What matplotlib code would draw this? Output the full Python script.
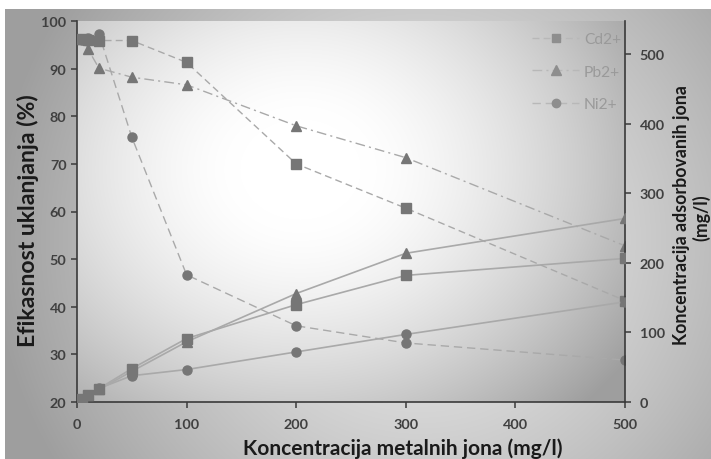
import numpy as np
import matplotlib
matplotlib.use("Agg")
import matplotlib.pyplot as plt
from matplotlib.lines import Line2D

plt.rcParams['font.family'] = ['Lato', 'DejaVu Sans']

# ---------------- data ----------------
conc = [5, 10, 20, 50, 100, 200, 300, 500]
series = ['Cd2+', 'Pb2+', 'Ni2+']
cd_eff = [96.2, 96.0, 95.9, 95.9, 91.3, 70.0, 60.7, 41.3]
pb_eff = [96.3, 94.1, 90.1, 88.2, 86.6, 78.0, 71.3, 52.8]
ni_eff = [96.0, 96.4, 97.3, 75.6, 46.7, 36.0, 32.4, 28.8]
cd_ads = [4.8, 9.6, 19.2, 48.0, 91.3, 140.0, 182.1, 206.5]
pb_ads = [4.8, 9.4, 18.0, 44.1, 86.6, 156.0, 213.9, 264.0]
ni_ads = [4.8, 9.6, 19.5, 37.8, 46.7, 72.0, 97.2, 144.0]
xticks = [0, 100, 200, 300, 400, 500]
yticks_left = [20, 30, 40, 50, 60, 70, 80, 90, 100]
yticks_right = [0, 100, 200, 300, 400, 500]

W, H = 711, 460
fig = plt.figure(figsize=(W / 100, H / 100), dpi=100)
renderer = fig.canvas.get_renderer()


def fit(txt, target_px, vertical=False):
    """scale a text's font size so its extent matches the target pixel span"""
    for _ in range(3):
        bb = txt.get_window_extent(renderer=renderer)
        cur = bb.height if vertical else bb.width
        txt.set_fontsize(txt.get_fontsize() * target_px / cur)


# ---------------- backgrounds ----------------
yy, xx = np.mgrid[0:H, 0:W].astype(float)
d = np.sqrt((xx - 420) ** 2 + (yy - 240) ** 2)
frame = 0.93 - 0.31 * np.clip(d / 430, 0, 1) ** 1.3
frame[(yy < 10) | (xx < 5)] = 1.0
bg = fig.add_axes([0, 0, 1, 1], zorder=-10)
bg.imshow(np.dstack([frame] * 3), extent=[0, W, H, 0], aspect='auto', interpolation='bilinear')
bg.set_xlim(0, W); bg.set_ylim(H, 0)
bg.axis('off')

L, R, T, B = 77, 625, 22, 403
ax = fig.add_axes([L / W, 1 - B / H, (R - L) / W, (B - T) / H])
ax.patch.set_alpha(0)
py, px = np.mgrid[T:B, L:R].astype(float)
dp = np.sqrt((px - 300) ** 2 + ((py - 170) * 1.2) ** 2)
plot_bg = 1 - 0.38 * np.clip((dp - 60) / 340, 0, 1) ** 1.5
ax.imshow(np.dstack([plot_bg] * 3), extent=[0, 500, 20, 100], aspect='auto',
          interpolation='bilinear', zorder=0)

ax2 = ax.twinx()
ax2.patch.set_alpha(0)

mcol = '#767676'
lcol = '#a9a9a9'
markers = ['s', '^', 'o']
msizes = [6.5, 7.5, 6.5]
dashes = [(0, (5, 3)), (0, (7, 3, 1.5, 3)), (0, (6, 3.5))]
effs = [cd_eff, pb_eff, ni_eff]
adss = [cd_ads, pb_ads, ni_ads]

handles = []
for name, eff, ads, mk, ms, ds in zip(series, effs, adss, markers, msizes, dashes):
    ax.plot(conc, eff, color=lcol, lw=1.0, linestyle=ds, zorder=3)
    ax.plot(conc, eff, linestyle='none', marker=mk, ms=ms, mfc=mcol, mec=mcol, zorder=4)
    ax2.plot(conc, ads, color=lcol, lw=1.2, zorder=3)
    ax2.plot(conc, ads, linestyle='none', marker=mk, ms=ms, mfc=mcol, mec=mcol, zorder=4)
    handles.append(Line2D([], [], color='#b8b8b8', lw=1.0, linestyle=ds, marker=mk, ms=ms - 0.5,
                          mfc='#8e8e8e', mec='#8e8e8e'))

ax.set_xlim(0, 500)
ax.set_ylim(20, 100)
ax2.set_ylim(0, 548)
ax.set_xticks(xticks)
ax.set_yticks(yticks_left)
ax2.set_yticks(yticks_right)

spc = '#3a3a3a'
for a in (ax, ax2):
    a.spines['top'].set_visible(False)
    for s in ['left', 'right', 'bottom']:
        a.spines[s].set_color(spc)
        a.spines[s].set_linewidth(1.2)
ax.spines['right'].set_visible(False)
ax2.spines['left'].set_visible(False)
ax2.spines['bottom'].set_visible(False)

ax.tick_params(axis='both', direction='out', length=4.5, width=1.1, color=spc, pad=3)
ax.tick_params(axis='x', pad=7)
ax2.tick_params(axis='y', direction='out', length=4.5, width=1.1, color=spc, pad=6)

# tick-label size: "100" is about 25 px wide in the reference
probe = fig.text(0, 0, '100', fontsize=10.5, fontweight='bold')
fit(probe, 25)
tick_fs = probe.get_fontsize()
probe.remove()
for lab in ax.get_xticklabels() + ax.get_yticklabels() + ax2.get_yticklabels():
    lab.set_fontsize(tick_fs)
    lab.set_fontweight('bold')
    lab.set_color('#404040')

xl = fig.text(403 / W, 1 - 449 / H, 'Koncentracija metalnih jona (mg/l)', ha='center', va='center',
              fontsize=13, fontweight='bold', color='#1a1a1a')
fit(xl, 320)
yl = fig.text(28 / W, 1 - 221 / H, 'Efikasnost uklanjanja (%)', ha='center', va='center', rotation=90,
              fontsize=13, fontweight='bold', color='#1a1a1a')
fit(yl, 252, vertical=True)
yr1 = fig.text(681 / W, 1 - 215 / H, 'Koncentracija adsorbovanih jona', ha='center', va='center',
               rotation=90, fontsize=12.5, fontweight='bold', color='#1a1a1a')
fit(yr1, 260, vertical=True)
yr2 = fig.text(701 / W, 1 - 218 / H, '(mg/l)', ha='center', va='center',
               rotation=90, fontsize=yr1.get_fontsize(), fontweight='bold', color='#1a1a1a')

probe = fig.text(0, 0, 'Cd2+', fontsize=11)
fit(probe, 37)
leg_fs = probe.get_fontsize()
probe.remove()

leg = ax2.legend(handles, series, loc='upper right', bbox_to_anchor=(621 / W, 1 - 33 / H),
                 bbox_transform=fig.transFigure, frameon=False, fontsize=leg_fs,
                 labelcolor='#9a9a9a', handlelength=3.0, handletextpad=0.3,
                 labelspacing=1.2, borderpad=0, borderaxespad=0)

fig.savefig('out.png', dpi=100)
